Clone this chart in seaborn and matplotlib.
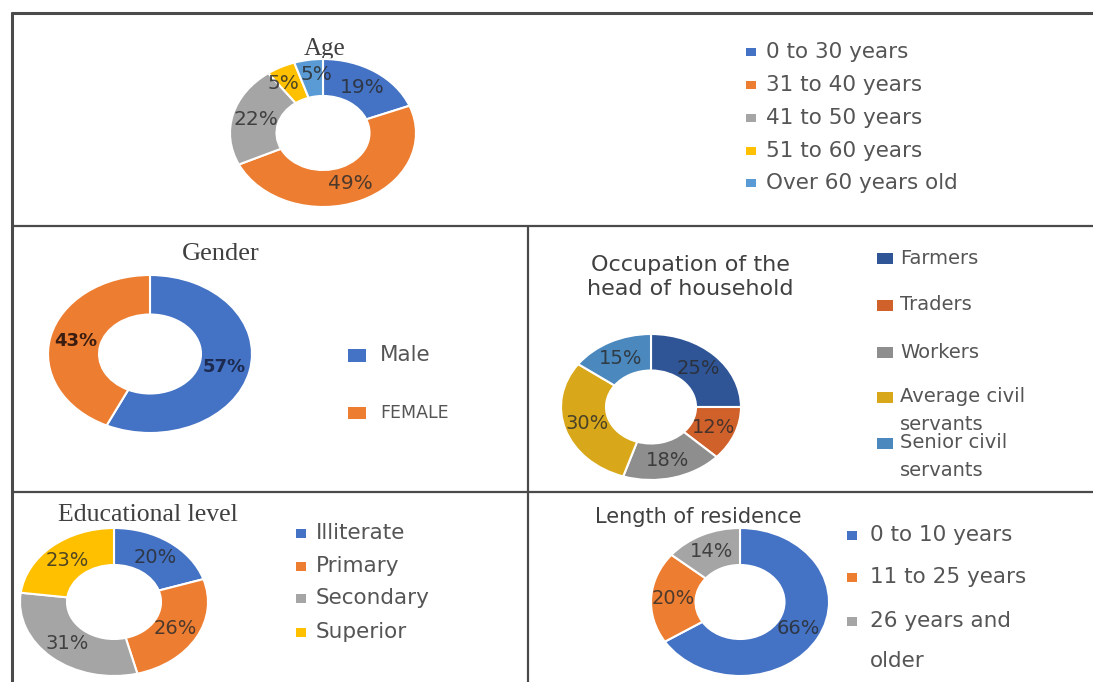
import textwrap
import matplotlib
matplotlib.use("Agg")
import matplotlib.pyplot as plt
from matplotlib.patches import Rectangle
import seaborn as sns

# ---------------- data ----------------
age_labels = ["0 to 30 years", "31 to 40 years", "41 to 50 years", "51 to 60 years", "Over 60 years old"]
age_values = [19, 49, 22, 5, 5]

gender_labels = ["Male", "FEMALE"]
gender_values = [57, 43]

occ_labels = ["Farmers", "Traders", "Workers", "Average civil servants", "Senior civil servants"]
occ_values = [25, 12, 18, 30, 15]

edu_labels = ["Illiterate", "Primary", "Secondary", "Superior"]
edu_values = [20, 26, 31, 23]

res_labels = ["0 to 10 years", "11 to 25 years", "26 years and older"]
res_values = [66, 20, 14]

# ---------------- style ----------------
office = sns.color_palette(["#4472C4", "#ED7D31", "#A5A5A5", "#FFC000", "#5B9BD5"])
occ_colors = sns.color_palette(["#2F5597", "#D0612B", "#8E8E8E", "#D9A81A", "#4A88BE"])

sns.set_theme(style="white")
plt.rcParams["font.family"] = ["DejaVu Sans"]

W, H = 1093, 682
fig = plt.figure(figsize=(W / 100, H / 100), dpi=100)
fig.patch.set_facecolor("white")

bg = fig.add_axes([0, 0, 1, 1])
bg.set_xlim(0, W)
bg.set_ylim(H, 0)
bg.axis("off")

# panel frame
lc = "#4a4a4a"
bg.plot([10.5, W], [12.5, 12.5], color=lc, lw=2.2, solid_capstyle="butt")
bg.plot([11.5, 11.5], [11.5, H], color=lc, lw=2.2, solid_capstyle="butt")
bg.plot([11, W], [226, 226], color=lc, lw=1.6, solid_capstyle="butt")
bg.plot([528, 528], [226, H], color=lc, lw=1.6, solid_capstyle="butt")
bg.plot([11, W], [492, 492], color=lc, lw=1.6, solid_capstyle="butt")

TXT = "#404040"
LEG = "#555555"


def donut(cx, cy, rx, ry, values, colors, pct_size, pct_colors=None, bold=False):
    ax = fig.add_axes([(cx - 1.25 * rx) / W, 1 - (cy + 1.25 * ry) / H,
                       2.5 * rx / W, 2.5 * ry / H])
    wedges, _, autotexts = ax.pie(
        values, colors=colors, startangle=90, counterclock=False, radius=1,
        autopct=lambda p: f"{p:.0f}%", pctdistance=0.75,
        wedgeprops=dict(width=0.5, edgecolor="white", linewidth=1.5),
        textprops=dict(fontsize=pct_size, color="#2a2a2a",
                       fontweight="bold" if bold else "normal"))
    for i, t in enumerate(autotexts):
        if pct_colors is not None:
            t.set_color(pct_colors[i])
        else:
            t.set_alpha(0.82)
    ax.set_aspect("auto")
    ax.set_xlim(-1.25, 1.25)
    ax.set_ylim(-1.25, 1.25)
    ax.axis("off")
    return ax, autotexts


def legend(labels, colors, x_sq, x_txt, ys, sq_w, sq_h, size, wrap=None, dy=0):
    for lab, col, y in zip(labels, colors, ys):
        bg.add_patch(Rectangle((x_sq, y - sq_h / 2), sq_w, sq_h, facecolor=col, edgecolor="none"))
        lines = textwrap.wrap(lab, wrap) if wrap else [lab]
        for k, ln in enumerate(lines):
            bg.text(x_txt, y + k * dy, ln, fontsize=size, color=LEG, va="center", ha="left")


# ---------------- Age ----------------
_, age_pcts = donut(323, 133, 93, 74, age_values, office, 14.5)
# spread the two small neighbouring labels apart, as in the reference
x3, y3 = age_pcts[3].get_position()
age_pcts[3].set_position((x3 - 0.08, y3))
x4, y4 = age_pcts[4].get_position()
age_pcts[4].set_position((x4 + 0.05, y4 + 0.05))
bg.text(325, 49, "Age", family="Liberation Serif", fontsize=18, color=TXT, ha="center", va="center")
legend(age_labels, office, 746, 766, [52, 85, 118, 151, 183], 10, 8, 15.5)

# ---------------- Gender ----------------
donut(150, 354, 102, 79, gender_values, office[:2], 13,
      pct_colors=["#1c2a4f", "#3a1d10"], bold=True)
bg.text(221, 254, "Gender", family="Liberation Serif", fontsize=19, color=TXT, ha="center", va="center")
bg.add_patch(Rectangle((348, 349), 18, 13, facecolor=office[0], edgecolor="none"))
bg.text(380, 355, gender_labels[0], fontsize=15.5, color=LEG, va="center")
bg.add_patch(Rectangle((348, 407), 18, 12, facecolor=office[1], edgecolor="none"))
bg.text(380, 413, gender_labels[1], fontsize=12.5, color=LEG, va="center")

# ---------------- Occupation ----------------
donut(651, 407, 90, 73, occ_values, occ_colors, 14)
bg.text(690, 277, "Occupation of the\nhead of household", fontsize=16, color=TXT,
        ha="center", va="center", linespacing=1.3)
legend(occ_labels, occ_colors, 877, 900, [258, 305, 352, 397, 443], 16, 11, 14, wrap=13, dy=28)

# ---------------- Education ----------------
donut(114, 602, 94, 74, edu_values, office[:4], 14)
bg.text(148, 515, "Educational level", family="Liberation Serif", fontsize=18.5, color=TXT,
        ha="center", va="center")
legend(edu_labels, office[:4], 296, 316, [533, 566, 598, 632], 10, 9, 15.5)

# ---------------- Residence ----------------
donut(740, 602, 89, 74, res_values, office[:3], 14)
bg.text(698, 517, "Length of residence", fontsize=15, color=TXT, ha="center", va="center")
legend(res_labels, office[:3], 847, 870, [535, 577, 621], 10, 9, 15.5, wrap=14, dy=40)

fig.savefig("out.png", dpi=100, facecolor="white")
